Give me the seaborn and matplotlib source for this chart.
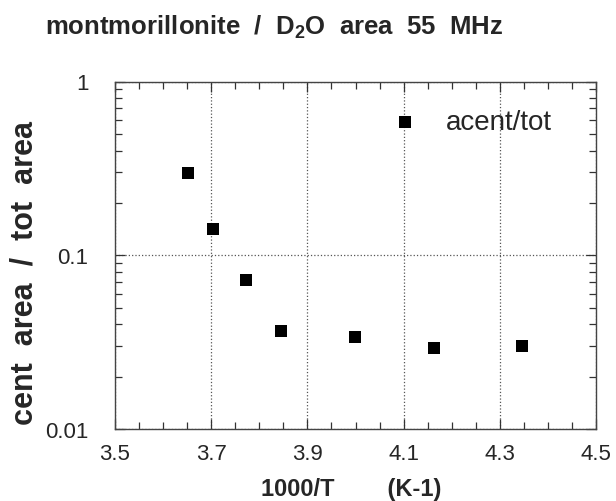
import matplotlib
matplotlib.use("Agg")
import matplotlib.pyplot as plt
import seaborn as sns
import pandas as pd
from matplotlib.ticker import FixedLocator, FixedFormatter, LogLocator, NullFormatter

# ---- data ----
inv_T = [3.651, 3.704, 3.773, 3.845, 3.999, 4.163, 4.346]
ratio = [0.297, 0.1416, 0.0723, 0.0365, 0.0337, 0.0291, 0.0301]
series_label = "acent/tot"
x_ticks = [3.5, 3.7, 3.9, 4.1, 4.3, 4.5]
x_tick_labels = ["3.5", "3.7", "3.9", "4.1", "4.3", "4.5"]
y_ticks = [0.01, 0.1, 1]
y_tick_labels = ["0.01", "0.1", "1"]
title = r"montmorillonite  /  D$_{2}$O  area  55  MHz"
xlabel = "1000/T        (K-1)"
ylabel = "cent  area  /  tot  area"

df = pd.DataFrame({"x": inv_T, "y": ratio})

sns.set_style("ticks")
plt.rcParams["font.family"] = ["Liberation Sans", "DejaVu Sans"]
plt.rcParams["mathtext.default"] = "regular"

fig = plt.figure(figsize=(6.16, 5.02), dpi=100)
ax = fig.add_axes([115/616, 72/502, 481/616, 347.5/502])

sns.scatterplot(data=df, x="x", y="y", marker="s", s=80, color="black",
                edgecolor="black", linewidth=0, label=series_label, ax=ax)

ax.set_yscale("log")
ax.set_xlim(3.5, 4.5)
ax.set_ylim(0.01, 1)

ax.xaxis.set_major_locator(FixedLocator(x_ticks))
ax.xaxis.set_major_formatter(FixedFormatter(x_tick_labels))
ax.xaxis.set_minor_locator(FixedLocator([3.5 + 0.05*i for i in range(21)]))
ax.yaxis.set_major_locator(FixedLocator(y_ticks))
ax.yaxis.set_major_formatter(FixedFormatter(y_tick_labels))
ax.yaxis.set_minor_locator(LogLocator(base=10, subs=range(2, 10)))
ax.yaxis.set_minor_formatter(NullFormatter())

ax.tick_params(which="both", direction="in", top=True, right=True, color="#333333")
ax.tick_params(which="major", length=7, width=0.9)
ax.tick_params(which="minor", length=5, width=0.9)
ax.tick_params(axis="x", which="major", labelsize=16, pad=10)
ax.tick_params(axis="y", which="major", labelsize=16, pad=19)

ax.grid(True, which="major", linestyle=":", color="#555555", linewidth=0.9)
for sp in ax.spines.values():
    sp.set_visible(True)
    sp.set_color("#444444")
    sp.set_linewidth(1.0)

ax.set_xlabel(xlabel, fontsize=17, fontweight="bold")
ax.set_ylabel(ylabel, fontsize=22, fontweight="bold")
ax.xaxis.set_label_coords((351 - 115) / 481, (430 - 478) / 347.5)
ax.yaxis.set_label_coords((40 - 115) / 481, (430 - 273) / 347.5)

fig.text(274/616, 1 - 27/502, title, fontsize=18.5, fontweight="bold",
         ha="center", va="center")

leg = ax.legend(loc="center left", bbox_to_anchor=(0.575, 0.883), frameon=False,
                borderpad=0, borderaxespad=0, handlelength=1.0, handletextpad=0.95,
                fontsize=20, markerscale=1.0)

fig.savefig("out.png", dpi=100)
